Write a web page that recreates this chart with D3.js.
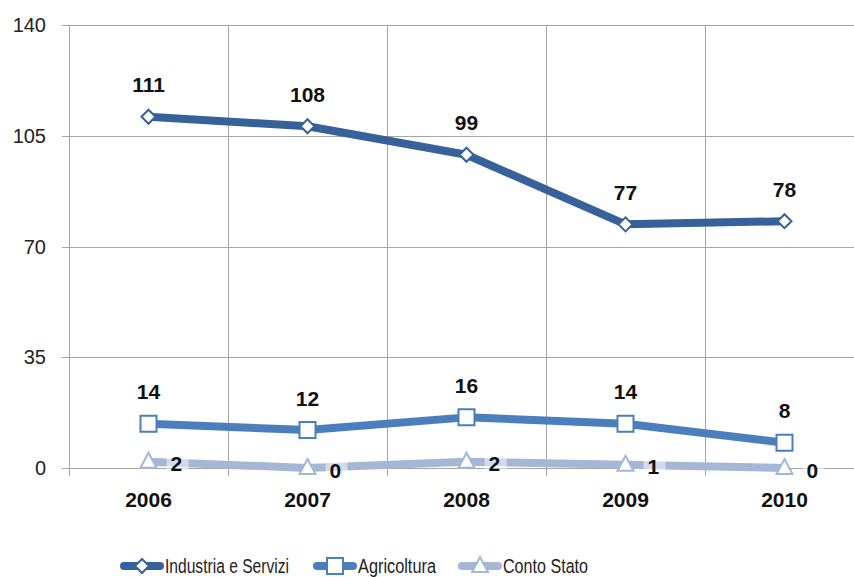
<!DOCTYPE html>
<html><head><meta charset="utf-8">
<script src="https://cdn.jsdelivr.net/npm/d3@7"></script>
<style>html,body{margin:0;padding:0;background:#fff;overflow:hidden}svg{display:block}</style>
</head><body>
<svg id="c" width="854" height="577"></svg>
<script>
const years = ["2006","2007","2008","2009","2010"];
const industria = [111,108,99,77,78];
const agricoltura = [14,12,16,14,8];
const contoStato = [2,0,2,1,0];
const yTicks = [0,35,70,105,140];
const seriesNames = ["Industria e Servizi","Agricoltura","Conto Stato"];

(function(){
const series = [
  {name:seriesNames[0], values:industria, color:"#376199", marker:"diamond", label:"above", legW:124},
  {name:seriesNames[1], values:agricoltura, color:"#4A7EBC", marker:"square", label:"above", legW:78},
  {name:seriesNames[2], values:contoStato, color:"#A4B7D7", marker:"triangle", label:"right", legW:85}
];

const svg = d3.select("#c");
const mL = 69, mT = 25, mB = 468, mR = 864;
const x = d3.scaleBand().domain(years).range([mL,mR]).padding(0);
const y = d3.scaleLinear().domain([0,140]).range([mB,mT]);
const cx = d => x(d) + x.bandwidth()/2;
const grid = "#A6A6A6";
const font = "'Liberation Sans',Arial,sans-serif";

svg.append("g").selectAll("line").data(yTicks).join("line")
  .attr("x1",mL-7).attr("x2",854).attr("y1",d=>Math.round(y(d))+0.5).attr("y2",d=>Math.round(y(d))+0.5)
  .attr("stroke",grid).attr("stroke-width",1);
svg.append("g").selectAll("line").data(years.slice(1)).join("line")
  .attr("x1",d=>Math.round(x(d))+0.5).attr("x2",d=>Math.round(x(d))+0.5)
  .attr("y1",mT).attr("y2",mB+8).attr("stroke",grid);
svg.append("line").attr("x1",mL+0.5).attr("x2",mL+0.5).attr("y1",mT).attr("y2",mB+8).attr("stroke",grid);

svg.append("g").selectAll("text").data(yTicks).join("text")
  .attr("x",46).attr("y",d=>y(d)).attr("dy","0.36em").attr("text-anchor","end")
  .attr("font-family",font).attr("font-size",20).attr("fill","#222")
  .text(d=>d);
svg.append("g").selectAll("text").data(years).join("text")
  .attr("x",d=>cx(d)).attr("y",499).attr("dy","0.36em").attr("text-anchor","middle")
  .attr("font-family",font).attr("font-weight","bold").attr("font-size",21).attr("fill","#111")
  .text(d=>d);

const line = d3.line().x((d,i)=>cx(years[i])).y(d=>y(d));

function markerPath(type){
  if(type==="diamond") return "M0,-7L7,0L0,7L-7,0Z";
  if(type==="square") return "M-8,-8H8V8H-8Z";
  return "M0,-9L8,6H-8Z";
}

series.forEach(s=>{
  svg.append("path").datum(s.values).attr("d",line).attr("fill","none")
    .attr("stroke",s.color).attr("stroke-width",8).attr("stroke-linejoin","round");
});
series.forEach(s=>{
  svg.append("g").selectAll("path").data(s.values).join("path")
    .attr("transform",(d,i)=>`translate(${cx(years[i])},${y(d)})`)
    .attr("d",markerPath(s.marker)).attr("fill","#fff").attr("stroke",s.color).attr("stroke-width",2);
});
series.forEach(s=>{
  const g = svg.append("g");
  s.values.forEach((d,i)=>{
    const px = cx(years[i]), py = y(d);
    if(s.label==="above"){
      g.append("text").attr("x",px).attr("y",py-32).attr("dy","0.36em").attr("text-anchor","middle")
        .attr("font-family",font).attr("font-weight","bold").attr("font-size",21).attr("fill","#111").text(d);
    } else {
      g.append("rect").attr("x",px+18).attr("y",py-8).attr("width",22).attr("height",16).attr("fill","#fff").attr("opacity",0.5);
      g.append("text").attr("x",px+22).attr("y",py+2).attr("dy","0.36em").attr("text-anchor","start")
        .attr("font-family",font).attr("font-weight","bold").attr("font-size",21).attr("fill","#111").text(d);
    }
  });
});

const legX = [142,335,480];
const legY = 566;
series.forEach((s,i)=>{
  const g = svg.append("g").attr("transform",`translate(${legX[i]},${legY})`);
  g.append("line").attr("x1",-18).attr("x2",18).attr("y1",0).attr("y2",0).attr("stroke",s.color).attr("stroke-width",8).attr("stroke-linecap","round");
  g.append("path").attr("d",markerPath(s.marker)).attr("fill","#fff").attr("stroke",s.color).attr("stroke-width",2);
  g.append("text").attr("x",23).attr("y",0).attr("dy","0.36em")
    .attr("font-family",font).attr("font-size",20).attr("fill","#222")
    .attr("textLength",s.legW).attr("lengthAdjust","spacingAndGlyphs").text(s.name);
});
})();
</script>
</body></html>
